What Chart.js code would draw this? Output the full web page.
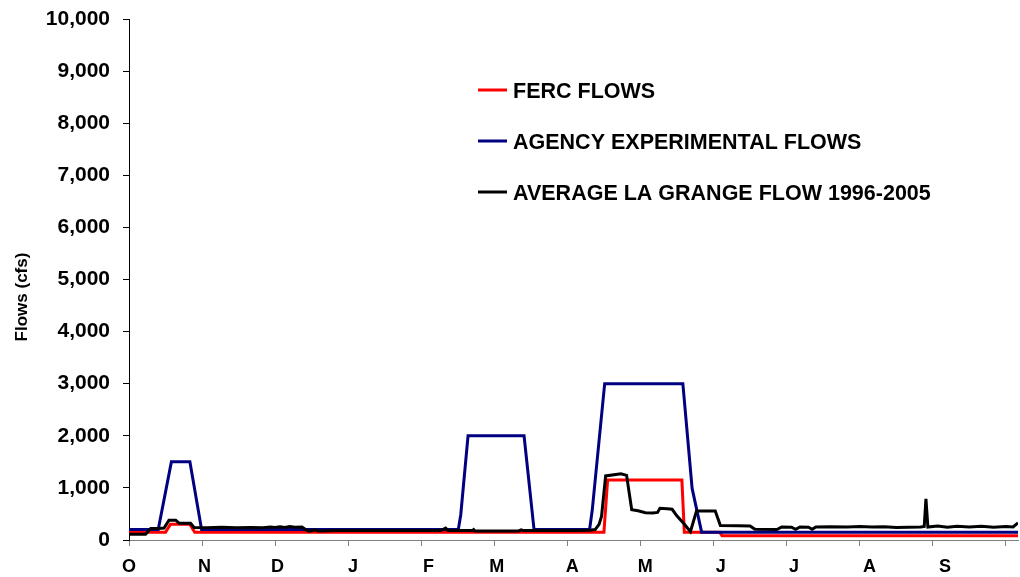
<!DOCTYPE html>
<html>
<head>
<meta charset="utf-8">
<script src="https://cdn.jsdelivr.net/npm/chart.js@4"></script>
<style>
html, body { margin: 0; padding: 0; background: #fff; }
</style>
</head>
<body>
<canvas id="graficoFlujos" width="1020" height="577"></canvas>
<script>
// eje x: dias desde el 1 de octubre
const monthLetters = ['O', 'N', 'D', 'J', 'F', 'M', 'A', 'M', 'J', 'J', 'A', 'S'];
const monthStartDays = [0, 31, 61, 92, 123, 151, 182, 212, 243, 273, 304, 335];
const tickDays = [0, 30, 60, 90, 120, 150, 180, 210, 240, 270, 300, 330, 360];
const yTicks = [0, 1000, 2000, 3000, 4000, 5000, 6000, 7000, 8000, 9000, 10000];
const yTitle = 'Flows (cfs)';

const fercDays  = [0, 15, 17, 25, 27, 195, 196.5, 227, 228, 242.5, 243.5, 365];
const fercFlows = [150, 150, 300, 300, 150, 150, 1150, 1150, 150, 150, 80, 80];

const agencyDays  = [0, 12, 17.4, 25, 29.8, 135.2, 136.2, 139.2, 162.2, 166.3, 189.1, 190.2, 195.3, 227.4, 231.2, 235.1, 365];
const agencyFlows = [200, 200, 1500, 1500, 200, 200, 480, 2000, 2000, 200, 200, 575, 3000, 3000, 990, 150, 150];

const avgDays = [0, 6.8, 8.9, 12, 14.4, 16.4, 19.2, 20.6, 25.3, 26.7, 32, 38, 44, 50, 55, 58, 60, 62, 64, 66, 68, 71,
  72.5, 74, 76, 78, 85, 100, 115, 128, 130, 131, 141, 141.5, 142, 160, 161, 162, 185, 189, 191.4, 193, 194, 195.7,
  202, 204.3, 206.4, 209, 212, 215, 217, 218, 221, 223, 225, 227.7, 230.5, 233, 240.7, 242.8, 250, 255, 257, 266,
  268, 272, 273.7, 275.5, 279, 280.5, 282, 288, 295, 300, 305, 310, 315, 320, 325, 326.5, 327.2, 328, 332, 336,
  340, 345, 350, 355, 360, 363, 365];
const avgFlows = [110, 110, 220, 220, 230, 380, 380, 320, 320, 240, 235, 245, 235, 240, 235, 250, 240, 255, 240, 260, 245, 250,
  200, 170, 190, 175, 180, 180, 180, 180, 230, 180, 180, 200, 175, 175, 195, 180, 180, 185, 200, 300, 450, 1230,
  1270, 1240, 580, 560, 525, 520, 530, 610, 600, 590, 460, 320, 160, 555, 555, 280, 275, 270, 205, 200,
  250, 245, 205, 250, 245, 205, 250, 255, 250, 260, 250, 255, 240, 245, 250, 260, 790, 250, 270, 245,
  265, 250, 265, 245, 260, 250, 330];

const allXTicks = [...new Set(tickDays.concat(monthStartDays))].sort((a, b) => a - b);

function aPuntos(dias, valores) {
    return dias.map((d, i) => ({ x: d, y: valores[i] }));
}

const fuente = 'Liberation Sans, Arial, sans-serif';

// leyenda dentro del area del grafico y titulo del eje y
const leyendaPlugin = {
    id: 'leyendaInterna',
    afterDraw(chart) {
        const ctx = chart.ctx;
        const area = chart.chartArea;
        const x0 = area.left + 349;
        const y0 = area.top + 71;
        ctx.save();
        ctx.font = 'bold 21.5px ' + fuente;
        ctx.textBaseline = 'middle';
        ctx.textAlign = 'left';
        chart.data.datasets.forEach((ds, i) => {
            const y = y0 + i * 51;
            ctx.strokeStyle = ds.borderColor;
            ctx.lineWidth = 3;
            ctx.beginPath();
            ctx.moveTo(x0, y);
            ctx.lineTo(x0 + 29, y);
            ctx.stroke();
            ctx.fillStyle = '#000';
            ctx.fillText(ds.label, x0 + 35, y + 2);
        });

        ctx.translate(22, 297);
        ctx.rotate(-Math.PI / 2);
        ctx.font = 'bold 17px ' + fuente;
        ctx.textAlign = 'center';
        ctx.fillText(yTitle, 0, 0);
        ctx.restore();
    }
};

new Chart(document.getElementById('graficoFlujos').getContext('2d'), {
    type: 'line',
    data: {
        datasets: [
            { label: 'FERC FLOWS', data: aPuntos(fercDays, fercFlows), borderColor: '#ff0000', order: 2 },
            { label: 'AGENCY EXPERIMENTAL FLOWS', data: aPuntos(agencyDays, agencyFlows), borderColor: '#000080', order: 1 },
            { label: 'AVERAGE LA GRANGE FLOW 1996-2005', data: aPuntos(avgDays, avgFlows), borderColor: '#000000', order: 0 }
        ]
    },
    options: {
        responsive: false,
        animation: false,
        datasets: { line: { borderWidth: 3, pointRadius: 0, tension: 0, fill: false } },
        layout: { padding: { top: 19, right: 2, bottom: 0, left: 0 } },
        plugins: { legend: { display: false }, tooltip: { enabled: false } },
        scales: {
            x: {
                type: 'linear',
                min: 0,
                max: 365,
                afterBuildTicks: (scale) => { scale.ticks = allXTicks.map(v => ({ value: v })); },
                afterFit: (scale) => { scale.height = 37; },
                border: { display: true, color: '#808080', width: 1 },
                grid: {
                    drawOnChartArea: false,
                    drawTicks: true,
                    tickLength: 6,
                    tickColor: (c) => (c.tick && tickDays.includes(c.tick.value)) ? '#808080' : 'rgba(0,0,0,0)'
                },
                ticks: {
                    autoSkip: false,
                    maxRotation: 0,
                    minRotation: 0,
                    padding: 10,
                    color: '#000',
                    font: { family: fuente, size: 18, weight: 'bold' },
                    callback: (v) => {
                        const i = monthStartDays.indexOf(v);
                        return i >= 0 ? monthLetters[i] : '';
                    }
                }
            },
            y: {
                min: 0,
                max: 10000,
                afterBuildTicks: (scale) => { scale.ticks = yTicks.map(v => ({ value: v })); },
                afterFit: (scale) => {
                    scale.width = 129;
                    scale.paddingTop = 0;
                    scale.paddingBottom = 0;
                },
                border: { display: true, color: '#000', width: 1 },
                grid: { drawOnChartArea: false, drawTicks: true, tickLength: 6, tickColor: '#000' },
                ticks: {
                    padding: 13,
                    color: '#000',
                    font: { family: fuente, size: 21, weight: 'bold' },
                    callback: (v) => v.toLocaleString('en-US')
                }
            }
        }
    },
    plugins: [leyendaPlugin]
});
</script>
</body>
</html>
